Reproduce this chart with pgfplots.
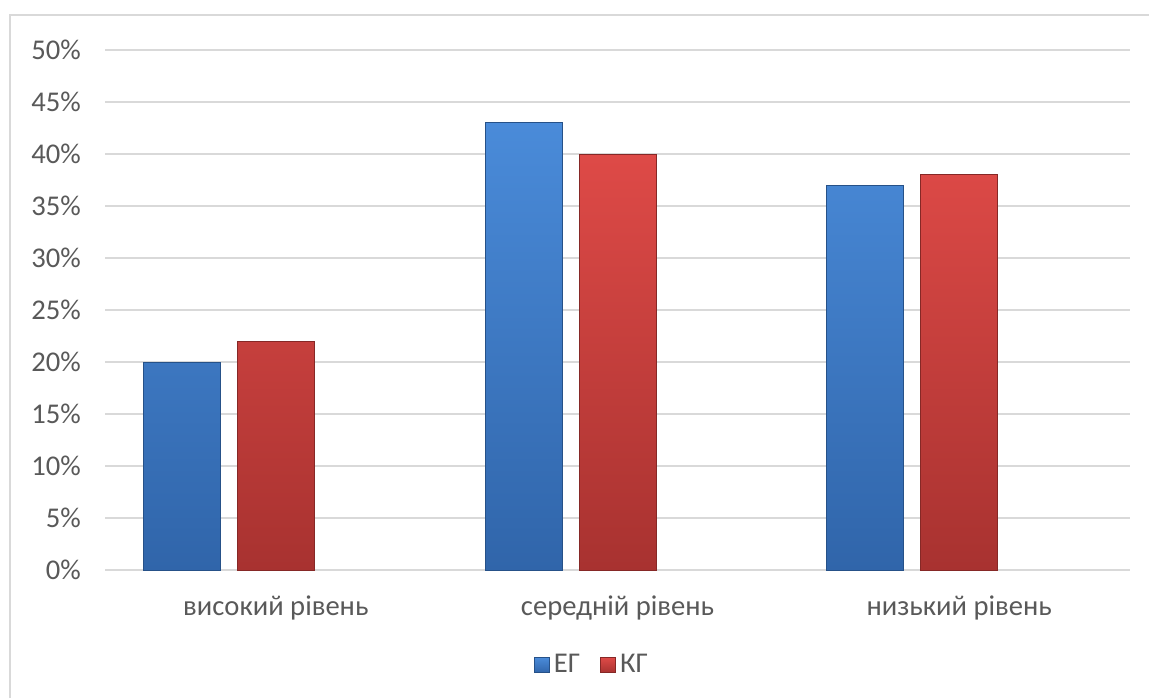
\documentclass[border=0pt]{standalone}
\usepackage{pgfplots}
\pgfplotsset{compat=1.18}
\usepackage{fontspec}
\setmainfont{Carlito}
\definecolor{txt}{HTML}{595959}
\definecolor{grid}{HTML}{D9D9D9}
\definecolor{btop}{HTML}{4A8BD9}
\definecolor{bmid}{HTML}{3D7ECF}
\definecolor{bbot}{HTML}{3065AA}
\definecolor{rtop}{HTML}{DE4A47}
\definecolor{rmid}{HTML}{D04340}
\definecolor{rbot}{HTML}{A83230}
\begin{document}
\begin{tikzpicture}
\useasboundingbox (0,0) rectangle (574.5pt,349pt);
\draw[color=grid, line width=0.8pt] (5pt,0) -- (5pt,341.5pt) -- (574.5pt,341.5pt);
\begin{axis}[
  at={(52.5pt,64pt)}, anchor=south west,
  scale only axis, width=512.5pt, height=260pt,
  xmin=-0.5, xmax=2.5, ymin=0, ymax=50,
  axis line style={draw=none},
  major tick length=0pt,
  xtick={0,1,2},
  xticklabels={високий рівень, середній рівень, низький рівень},
  ytick={0,5,...,50},
  yticklabel={\pgfmathprintnumber{\tick}\%},
  /pgf/number format/assume math mode=true,
  ymajorgrids, grid style={color=grid, line width=0.8pt},
  tick label style={font=\fontsize{14.3}{17}\selectfont, color=txt},
  yticklabel style={xshift=-8.5pt},
  xticklabel style={yshift=-9.5pt},
  ybar, bar width=0.225,
  legend style={at={(0.476,-0.183)}, anchor=center, draw=none, fill=none,
     legend columns=2, font=\fontsize{14.3}{17}\selectfont, text=txt,
     /tikz/every even column/.append style={column sep=8pt}},
  legend image code/.code={\draw[#1] (0pt,-3.8pt) rectangle (7.6pt,3.8pt);},
]
\addplot[bar shift=-0.275, draw=bbot!80!black, line width=0.4pt,
  top color=btop, middle color=bmid, bottom color=bbot]
  coordinates {(0,20) (1,43) (2,37)};
\addplot[bar shift=0, draw=rbot!80!black, line width=0.4pt,
  top color=rtop, middle color=rmid, bottom color=rbot]
  coordinates {(0,22) (1,40) (2,38)};
\legend{ЕГ, КГ}
\end{axis}
\end{tikzpicture}
\end{document}
